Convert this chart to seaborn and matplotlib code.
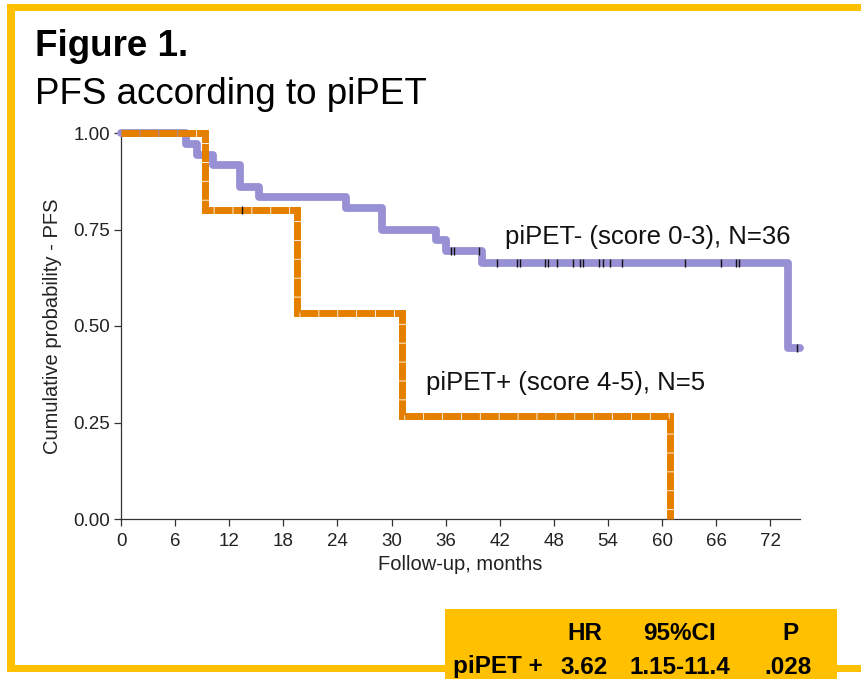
import matplotlib
matplotlib.use("Agg")
import matplotlib.pyplot as plt
from matplotlib.patches import Rectangle
from matplotlib import font_manager
import seaborn as sns
import pandas as pd

# ---- data ----
neg_times = [0, 7.2, 8.4, 10.2, 13.2, 15.3, 25.0, 28.9, 34.9, 36.0, 40.0, 74.0, 75.3]
neg_surv = [1.0, 0.972, 0.944, 0.917, 0.861, 0.833, 0.806, 0.750, 0.722, 0.694, 0.663, 0.442, 0.442]
neg_cens_t = [36.6, 36.9, 39.7, 41.7, 43.9, 44.2, 47.0, 47.3, 48.4, 50.1, 50.9, 51.2,
              53.0, 53.4, 54.2, 55.6, 62.5, 66.5, 68.2, 68.5, 75.0]
neg_cens_s = [0.694, 0.694, 0.694, 0.663, 0.663, 0.663, 0.663, 0.663, 0.663, 0.663, 0.663, 0.663,
              0.663, 0.663, 0.663, 0.663, 0.663, 0.663, 0.663, 0.663, 0.442]

pos_times = [0, 9.3, 19.5, 31.2, 60.9]
pos_surv = [1.0, 0.80, 0.533, 0.267, 0.0]
pos_cens_t = [13.4]
pos_cens_s = [0.80]

x_ticks = [0, 6, 12, 18, 24, 30, 36, 42, 48, 54, 60, 66, 72]
y_ticks = [0.00, 0.25, 0.50, 0.75, 1.00]
y_ticklabels = ["0.00", "0.25", "0.50", "0.75", "1.00"]

table_header = ["HR", "95%CI", "P"]
table_row = ["piPET +", "3.62", "1.15-11.4", ".028"]

label_neg = "piPET- (score 0-3), N=36"
label_pos = "piPET+ (score 4-5), N=5"

BLUE = "#9790d4"
ORANGE = "#e47f00"
GOLD = "#ffc000"

sns.set_style("ticks")
plt.rcParams["font.family"] = ["Liberation Sans", "DejaVu Sans"]
plt.rcParams["text.color"] = "black"

installed = {f.name for f in font_manager.fontManager.ttflist}
if "Liberation Sans Narrow" in installed:
    TABLE_FAMILY = ["Liberation Sans Narrow", "Liberation Sans"]
    TABLE_SIZE = 19.5
else:
    TABLE_FAMILY = ["Liberation Sans", "DejaVu Sans"]
    TABLE_SIZE = 17.5

W, H = 861, 679
fig = plt.figure(figsize=(W / 100, H / 100), dpi=100)


def fx(px):
    return px / W


def fy(py):
    return 1 - py / H


def rect(x0, y0, x1, y1, **kw):
    fig.patches.append(Rectangle((fx(x0), fy(y1)), fx(x1) - fx(x0), fy(y0) - fy(y1),
                                 transform=fig.transFigure, figure=fig, lw=0, **kw))


# gold frame
rect(7, 4, 861, 11, color=GOLD)
rect(7, 4, 15, 672, color=GOLD)
rect(7, 665, 445, 672, color=GOLD)
rect(837, 665, 861, 672, color=GOLD)
rect(445, 609, 837, 679, color=GOLD)

# titles
fig.text(fx(35), fy(47), "Figure 1.", fontsize=26.5, fontweight="bold", va="center", ha="left",
         color="black")
fig.text(fx(35), fy(95), "PFS according to piPET", fontsize=26.5, va="center", ha="left",
         color="black")

ax = fig.add_axes([fx(121), fy(519), fx(800) - fx(121), fy(133) - fy(519)])

df_neg = pd.DataFrame({"t": neg_times, "s": neg_surv})
df_pos = pd.DataFrame({"t": pos_times, "s": pos_surv})

sns.lineplot(data=df_neg, x="t", y="s", ax=ax, color=BLUE, lw=5.6, drawstyle="steps-post",
             estimator=None, sort=False, solid_joinstyle="round", solid_capstyle="round",
             clip_on=False, zorder=3)
sns.lineplot(data=df_pos, x="t", y="s", ax=ax, color=ORANGE, lw=5.0, drawstyle="steps-post",
             estimator=None, sort=False, linestyle=(0, (2.6, 0.12)), dash_capstyle="butt",
             dash_joinstyle="miter", clip_on=False, zorder=4)

df_cn = pd.DataFrame({"t": neg_cens_t, "s": neg_cens_s})
df_cp = pd.DataFrame({"t": pos_cens_t, "s": pos_cens_s})
for d in (df_cn, df_cp):
    sns.scatterplot(data=d, x="t", y="s", ax=ax, marker="|", s=40, color="#111111",
                    linewidth=1.0, zorder=6, clip_on=False)

ax.text(42.6, 0.73, label_neg, fontsize=18.5, va="center", ha="left", color="#111111")
ax.text(33.8, 0.352, label_pos, fontsize=18.5, va="center", ha="left", color="#111111")

ax.set_xlim(0, 75.3)
ax.set_ylim(0, 1)
ax.set_xticks(x_ticks)
ax.set_yticks(y_ticks)
ax.set_yticklabels(y_ticklabels)
ax.tick_params(axis="both", labelsize=13.5, length=5, width=0.9, color="#333333",
               labelcolor="#222222")
ax.tick_params(axis="x", pad=5)
ax.tick_params(axis="y", pad=3)
for sp in ("left", "bottom"):
    ax.spines[sp].set_color("#333333")
    ax.spines[sp].set_linewidth(0.9)
sns.despine(ax=ax)
ax.set_xlabel("Follow-up, months", fontsize=14.5, color="#222222", labelpad=4)
ax.set_ylabel("Cumulative probability - PFS", fontsize=14.5, color="#222222", labelpad=8)

# table
hdr_x = [585, 680, 790]
row_x = [584, 680, 788]
for x, t in zip(hdr_x, table_header):
    fig.text(fx(x), fy(633), t, fontsize=TABLE_SIZE, fontweight="bold", ha="center", va="center",
             color="black", family=TABLE_FAMILY)
fig.text(fx(453), fy(667), table_row[0], fontsize=TABLE_SIZE, fontweight="bold", ha="left",
         va="center", color="black", family=TABLE_FAMILY)
for x, t in zip(row_x, table_row[1:]):
    fig.text(fx(x), fy(667), t, fontsize=TABLE_SIZE, fontweight="bold", ha="center", va="center",
             color="black", family=TABLE_FAMILY)

fig.savefig("out.png", dpi=100)
